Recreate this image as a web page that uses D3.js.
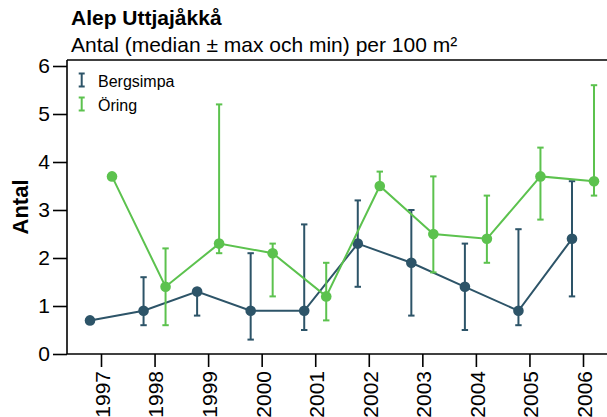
<!DOCTYPE html>
<html>
<head>
<meta charset="utf-8">
<script src="https://cdn.jsdelivr.net/npm/d3@7"></script>
<style>
  html, body { margin: 0; padding: 0; background: #fff; }
  svg { display: block; font-family: "Liberation Sans", Arial, Helvetica, sans-serif; }
</style>
</head>
<body>
<svg id="chart" width="607" height="417"></svg>
<script>
// ---- data ----
const years = ["1997","1998","1999","2000","2001","2002","2003","2004","2005","2006"];
const bergsimpaMedian = [0.7, 0.9, 1.3, 0.9, 0.9, 2.3, 1.9, 1.4, 0.9, 2.4];
const bergsimpaMin    = [null, 0.6, 0.8, 0.3, 0.5, 1.4, 0.8, 0.5, 0.6, 1.2];
const bergsimpaMax    = [null, 1.6, 1.35, 2.1, 2.7, 3.2, 3.0, 2.3, 2.6, 3.6];
const oringMedian = [3.7, 1.4, 2.3, 2.1, 1.2, 3.5, 2.5, 2.4, 3.7, 3.6];
const oringMin    = [null, 0.6, 2.1, 1.2, 0.7, 3.5, 1.7, 1.9, 2.8, 3.3];
const oringMax    = [null, 2.2, 5.2, 2.3, 1.9, 3.8, 3.7, 3.3, 4.3, 5.6];
const yTicks = [0, 1, 2, 3, 4, 5, 6];
const seriesNames = ["Bergsimpa", "Öring"];
const colors = ["#2d5468", "#5cc24e"];
const titleText = "Alep Uttjajåkkå";
const subtitleText = "Antal (median ± max och min) per 100 m²";
const yLabel = "Antal";

// ---- layout ----
const svg = d3.select("#chart");
const pLeft = 67, pRight = 617, pTop = 60, pBottom = 354;

const x = d3.scalePoint().domain(years).range([101, 583]);
const y = d3.scaleLinear().domain([0, 6]).range([pBottom, 66]);
const dodge = [-11, 11];

const series = [
  { name: seriesNames[0], color: colors[0], med: bergsimpaMedian, mn: bergsimpaMin, mx: bergsimpaMax },
  { name: seriesNames[1], color: colors[1], med: oringMedian, mn: oringMin, mx: oringMax }
];

// frame top line
svg.append("line")
  .attr("x1", pLeft).attr("x2", pRight)
  .attr("y1", pTop).attr("y2", pTop)
  .attr("stroke", "#000").attr("stroke-width", 1.6);

// y axis
const yAxis = svg.append("g")
  .attr("transform", `translate(${pLeft},0)`)
  .call(d3.axisLeft(y).tickValues(yTicks).tickFormat(d3.format("d")).tickSize(14).tickPadding(3));
yAxis.select(".domain").attr("d", `M0,${pTop}V${pBottom}`).attr("stroke-width", 1.6);
yAxis.selectAll(".tick line").attr("stroke-width", 1.6);
yAxis.selectAll(".tick text").attr("font-size", 21).attr("fill", "#000");

// x axis
const xAxis = svg.append("g")
  .attr("transform", `translate(0,${pBottom})`)
  .call(d3.axisBottom(x).tickSize(13).tickPadding(3));
xAxis.select(".domain").attr("d", `M${pLeft},0H${pRight}`).attr("stroke-width", 1.6);
xAxis.selectAll(".tick line").attr("stroke-width", 1.6);
xAxis.selectAll(".tick text")
  .attr("font-size", 21).attr("fill", "#000")
  .attr("transform", "rotate(-90)")
  .attr("text-anchor", "end")
  .attr("x", -17).attr("y", 0).attr("dy", "0.4em");

// series
series.forEach((s, si) => {
  const g = svg.append("g");
  const pts = years.map((yr, i) => ({
    x: x(yr) + dodge[si], med: s.med[i], mn: s.mn[i], mx: s.mx[i]
  }));
  const eb = pts.filter(p => p.mn !== null && p.mx !== null);
  g.selectAll("line.eb").data(eb).join("line")
    .attr("class", "eb")
    .attr("x1", d => d.x).attr("x2", d => d.x)
    .attr("y1", d => y(d.mn)).attr("y2", d => y(d.mx))
    .attr("stroke", s.color).attr("stroke-width", 2);
  ["mn", "mx"].forEach(k => {
    g.selectAll("line.cap" + k).data(eb).join("line")
      .attr("class", "cap" + k)
      .attr("x1", d => d.x - 3.2).attr("x2", d => d.x + 3.2)
      .attr("y1", d => y(d[k])).attr("y2", d => y(d[k]))
      .attr("stroke", s.color).attr("stroke-width", 2);
  });
  g.append("path").datum(pts)
    .attr("fill", "none").attr("stroke", s.color).attr("stroke-width", 2)
    .attr("d", d3.line().x(d => d.x).y(d => y(d.med)));
  g.selectAll("circle").data(pts).join("circle")
    .attr("cx", d => d.x).attr("cy", d => y(d.med)).attr("r", 5.3)
    .attr("fill", s.color);
});

// legend
series.forEach((s, i) => {
  const by = 86.5 + i * 24;
  const lg = svg.append("g");
  lg.append("line").attr("x1", 81.7).attr("x2", 81.7).attr("y1", by - 13).attr("y2", by)
    .attr("stroke", s.color).attr("stroke-width", 2);
  [by - 13, by].forEach(yy => lg.append("line")
    .attr("x1", 78.7).attr("x2", 84.7).attr("y1", yy).attr("y2", yy)
    .attr("stroke", s.color).attr("stroke-width", 2));
  lg.append("text").attr("x", 98).attr("y", by)
    .attr("font-size", 16).attr("fill", "#000").text(s.name);
});

// titles
svg.append("text").attr("x", 71).attr("y", 25)
  .attr("font-size", 21).attr("font-weight", "bold").attr("fill", "#000").text(titleText);
svg.append("text").attr("x", 71).attr("y", 52)
  .attr("font-size", 21).attr("fill", "#000").text(subtitleText);

// y axis label
svg.append("text")
  .attr("transform", `translate(28,${(pTop + pBottom) / 2}) rotate(-90)`)
  .attr("text-anchor", "middle")
  .attr("font-size", 22).attr("font-weight", "bold").attr("fill", "#000")
  .text(yLabel);
</script>
</body>
</html>
